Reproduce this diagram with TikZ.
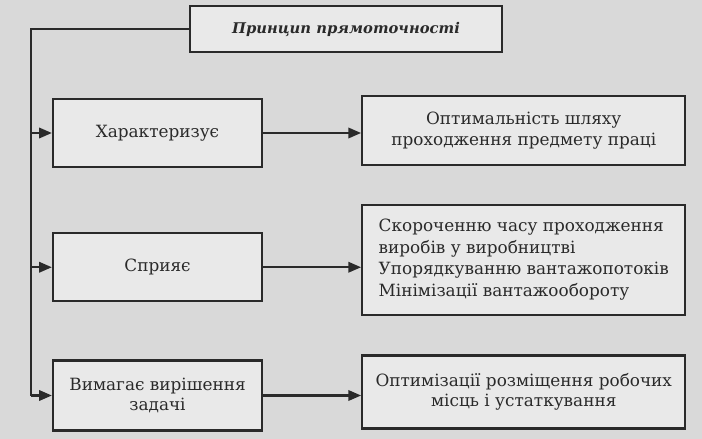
\documentclass[tikz,border=0pt]{standalone}
\usepackage{fontspec}
\setmainfont{DejaVu Serif}
\usetikzlibrary{arrows.meta,positioning}
\definecolor{PageGray}{HTML}{D9D9D9}
\definecolor{BoxFill}{HTML}{E9E9E9}
\definecolor{InkGray}{HTML}{2A2A2A}
\tikzset{
  pbox/.style={draw=InkGray, fill=BoxFill, line width=1.6pt, align=center, text=InkGray,
               font=\fontsize{12}{14.5}\selectfont, minimum width=5.225cm, minimum height=1.7cm, inner sep=2pt},
  pres/.style={draw=InkGray, fill=BoxFill, line width=1.6pt, align=center, text=InkGray,
               font=\fontsize{12}{14.5}\selectfont, minimum width=8.075cm, minimum height=1.725cm, inner sep=2pt},
  parr/.style={-{Triangle[length=3.2mm, width=2.6mm]}, line width=1.6pt, InkGray}
}
\begin{document}
\begin{tikzpicture}
\fill[PageGray] (0,0) rectangle (17.55,-10.975);
\useasboundingbox (0,0) rectangle (17.55,-10.975);
\node[pbox, minimum width=7.8cm, minimum height=1.15cm, font=\bfseries\itshape\fontsize{10.5}{13}\selectfont] (title) at (8.65,-0.725) {Принцип прямоточності};
\node[pbox] (char) at (3.9375,-3.325) {Характеризує};
\node[pbox, below=1.6cm of char] (help) {Сприяє};
\node[pbox, below=1.425cm of help, minimum height=1.75cm] (need) {Вимагає вирішення\\задачі};
\node[pres, right=2.45cm of char, yshift=0.06cm] (path) {Оптимальність шляху\\проходження предмету праці};
\node[pres, right=2.45cm of help, yshift=0.19cm, minimum height=2.75cm, align=left,
      font=\fontsize{12}{15.3}\selectfont] (time) {Скороченню часу проходження\\виробів у виробництві\\Упорядкуванню вантажопотоків\\Мінімізації вантажообороту};
\node[pres, right=2.45cm of need, yshift=0.09cm, minimum height=1.825cm] (place) {Оптимізації розміщення робочих\\місць і устаткування};
\coordinate (spine) at (0.775,-0.725);
\draw[line width=1.6pt, InkGray] (title.west) -- (spine) -- (spine |- need.west);
\draw[parr] (spine |- char.west) -- (char.west);
\draw[parr] (spine |- help.west) -- (help.west);
\draw[parr] (spine |- need.west) -- (need.west);
\draw[parr] (char.east) -- (char.east -| path.west);
\draw[parr] (help.east) -- (help.east -| time.west);
\draw[parr] (need.east) -- (need.east -| place.west);
\end{tikzpicture}
\end{document}
